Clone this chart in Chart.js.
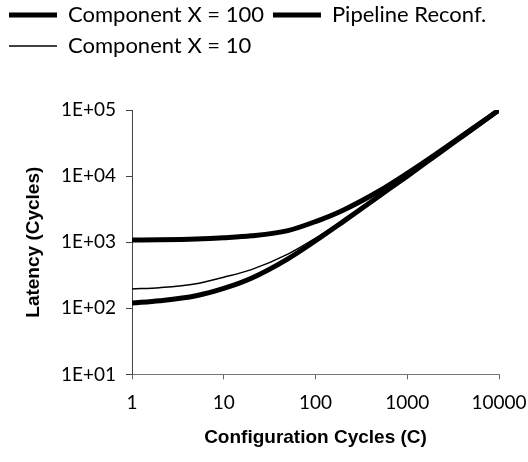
<!DOCTYPE html>
<html>
<head>
<meta charset="utf-8">
<script src="https://cdn.jsdelivr.net/npm/chart.js@4"></script>
<style>
  html, body { margin: 0; padding: 0; background: #fff; }
  #wrap { width: 528px; height: 462px; }
</style>
</head>
<body>
<div id="wrap"><canvas id="latChart"></canvas></div>
<script>
// Configuration cycles (x) and latency values
const cycles = [1, 2, 5, 10, 20, 50, 100, 200, 500, 1000, 2000, 5000, 10000];
const compX100 = [1080, 1090, 1120, 1170, 1250, 1500, 2050, 3050, 6000, 11000, 21000, 51000, 100000];
const pipeline = [120, 130, 155, 200, 285, 560, 1050, 2050, 5050, 10000, 20000, 50000, 100000];
const compX10 = [196, 205, 235, 295, 385, 660, 1150, 2150, 5100, 10100, 20100, 50100, 100000];
const xTicks = [1, 10, 100, 1000, 10000];
const yTicks = [10, 100, 1000, 10000, 100000];

const canvas = document.getElementById('latChart');

function toPoints(vals) {
    return cycles.map((c, i) => ({ x: c, y: vals[i] }));
}

function makeSet(label, vals, width) {
    return {
        label: label,
        data: toPoints(vals),
        borderColor: '#000',
        backgroundColor: '#000',
        borderWidth: width,
        pointRadius: 0,
        cubicInterpolationMode: 'monotone',
        pointStyle: 'line'
    };
}

// give the legend some extra room below it
const legendSpace = {
    id: 'legendSpace',
    beforeLayout(chart) {
        const lg = chart.legend;
        if (lg && !lg._patched) {
            const orig = lg.fit;
            lg.fit = function () {
                orig.call(this);
                this.height += 43;
            };
            lg._patched = true;
        }
    }
};

new Chart(canvas, {
    type: 'line',
    data: {
        datasets: [
            makeSet('Component X = 100', compX100, 5),
            makeSet('Pipeline Reconf.', pipeline, 5),
            makeSet('Component X = 10', compX10, 1.5)
        ]
    },
    plugins: [legendSpace],
    options: {
        responsive: true,
        maintainAspectRatio: false,
        animation: false,
        layout: { padding: { left: 0, right: 0, top: -5, bottom: 9 } },
        plugins: {
            tooltip: { enabled: false },
            legend: {
                position: 'top',
                align: 'start',
                labels: {
                    usePointStyle: true,
                    pointStyleWidth: 48,
                    boxWidth: 48,
                    boxHeight: 6,
                    padding: 9,
                    color: '#000',
                    font: { family: 'Lato', size: 22 }
                }
            }
        },
        scales: {
            x: {
                type: 'logarithmic',
                min: 1,
                max: 10000,
                afterBuildTicks: function (axis) {
                    axis.ticks = xTicks.map(v => ({ value: v }));
                },
                afterFit: function (axis) { axis.paddingRight = 29; },
                ticks: {
                    color: '#000',
                    padding: 12,
                    maxRotation: 0,
                    autoSkip: false,
                    font: { family: 'Lato', size: 19 },
                    callback: function (v) { return String(v); }
                },
                grid: { drawOnChartArea: false, drawTicks: true, tickLength: 5, color: '#666' },
                border: { color: '#777', dash: [2, 2], width: 1 },
                title: {
                    display: true,
                    text: 'Configuration Cycles (C)',
                    color: '#000',
                    font: { family: 'Liberation Sans', size: 19, weight: 'bold' },
                    padding: { top: 0 }
                }
            },
            y: {
                type: 'logarithmic',
                min: 10,
                max: 100000,
                afterBuildTicks: function (axis) {
                    axis.ticks = yTicks.map(v => ({ value: v }));
                },
                afterFit: function (axis) { axis.width = 132; },
                ticks: {
                    color: '#000',
                    padding: 10,
                    autoSkip: false,
                    font: { family: 'Lato', size: 19 },
                    callback: function (v) {
                        const e = Math.round(Math.log10(v));
                        return '1E+' + String(e).padStart(2, '0');
                    }
                },
                grid: { drawOnChartArea: false, drawTicks: true, tickLength: 6, color: '#444' },
                border: { color: '#444', width: 1 },
                title: {
                    display: true,
                    text: 'Latency (Cycles)',
                    color: '#000',
                    font: { family: 'Liberation Sans', size: 19, weight: 'bold' },
                    padding: { top: 22, bottom: 10 }
                }
            }
        }
    }
});
</script>
</body>
</html>
